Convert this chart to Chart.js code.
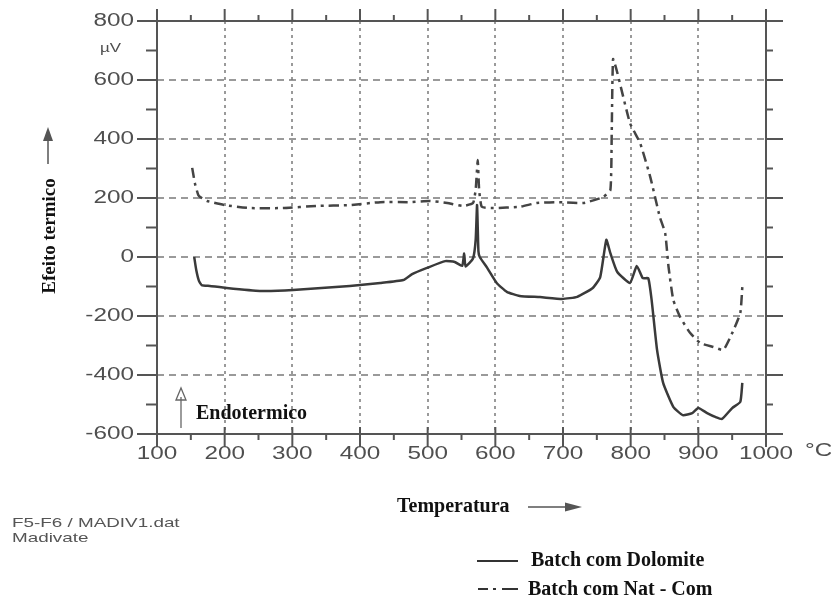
<!DOCTYPE html>
<html>
<head>
<meta charset="utf-8">
<script src="https://cdn.jsdelivr.net/npm/chart.js@4/dist/chart.umd.min.js"></script>
<style>
  html, body { margin: 0; padding: 0; background: #fff; }
  #wrap { width: 831px; height: 600px; }
</style>
</head>
<body>
<div id="wrap"><canvas id="dtaChart" width="831" height="600"></canvas></div>
<script>
// DTA curves, temperature in °C, signal in µV
const tempDolomite = [155, 158, 162, 166, 178, 203, 252, 301, 385, 430, 464, 477, 499, 526, 540, 551, 554, 556, 567, 571, 573, 575, 577, 588, 602, 617, 636, 666, 699, 721, 744, 755, 764, 770, 780, 799, 809, 818, 826, 831, 839, 848, 863, 877, 891, 900, 913, 925, 935, 950, 962, 965];
const valDolomite = [0, -44, -81, -95, -98, -105, -115, -112, -98, -88, -78, -58, -37, -14, -17, -30, 12, -32, -5, 60, 176, 20, 0, -37, -88, -118, -132, -136, -142, -135, -105, -68, 58, 13, -50, -88, -30, -72, -72, -146, -315, -427, -508, -536, -529, -512, -529, -542, -549, -512, -491, -427];

const tempNatCom = [152, 156, 161, 164, 174, 200, 237, 286, 336, 385, 430, 474, 503, 529, 552, 567, 571, 574, 576, 580, 597, 636, 661, 691, 730, 759, 770, 772, 774, 780, 799, 814, 829, 843, 851, 856, 863, 873, 888, 903, 922, 937, 950, 962, 965];
const valNatCom = [302, 250, 210, 203, 190, 176, 166, 166, 173, 176, 186, 186, 190, 183, 173, 183, 230, 329, 230, 170, 166, 170, 183, 186, 183, 203, 227, 420, 671, 627, 454, 386, 271, 136, 81, -34, -146, -203, -258, -292, -305, -315, -258, -190, -102];

const xTicks = [100, 200, 300, 400, 500, 600, 700, 800, 900, 1000];
const yTicks = [800, 600, 400, 200, 0, -200, -400, -600];
const seriesNames = ['Batch com Dolomite', 'Batch com Nat - Com'];

function toPoints(xs, ys) {
    return xs.map((x, i) => ({ x: x, y: ys[i] }));
}

// horizontally stretched text, like the plotter font
function wideText(ctx, text, x, y, align, sx) {
    ctx.save();
    ctx.translate(x, y);
    ctx.scale(sx, 1);
    ctx.textAlign = align;
    ctx.textBaseline = 'middle';
    ctx.fillText(text, 0, 0);
    ctx.restore();
}

function line(ctx, x1, y1, x2, y2) {
    ctx.beginPath();
    ctx.moveTo(x1, y1);
    ctx.lineTo(x2, y2);
    ctx.stroke();
}

const dtaDecor = {
    id: 'dtaDecor',
    beforeDatasetsDraw(chart) {
        const ctx = chart.ctx;
        const a = chart.chartArea;
        const xs = chart.scales.x, ys = chart.scales.y;
        ctx.save();
        ctx.strokeStyle = '#7a7a7a';
        ctx.lineWidth = 1.5;
        // vertical dotted grid
        ctx.setLineDash([3, 4]);
        xTicks.slice(1, -1).forEach(v => {
            const px = Math.round(xs.getPixelForValue(v));
            line(ctx, px, a.top, px, a.bottom);
        });
        // horizontal dashed grid
        ctx.setLineDash([7, 5]);
        yTicks.slice(1, -1).forEach(v => {
            const py = Math.round(ys.getPixelForValue(v));
            line(ctx, a.left, py, a.right, py);
        });
        ctx.restore();
    },
    afterDatasetsDraw(chart) {
        const ctx = chart.ctx;
        const a = chart.chartArea;
        const xs = chart.scales.x, ys = chart.scales.y;
        ctx.save();

        // frame and tick marks
        ctx.strokeStyle = '#555';
        ctx.lineWidth = 2;
        ctx.strokeRect(a.left, a.top, a.right - a.left, a.bottom - a.top);
        for (let v = -600; v <= 800; v += 100) {
            const py = ys.getPixelForValue(v);
            const major = v % 200 === 0;
            line(ctx, a.left - (major ? 20 : 11), py, a.left, py);
            line(ctx, a.right, py, a.right + (major ? 17 : 7), py);
        }
        for (let v = 100; v <= 1000; v += 50) {
            const px = xs.getPixelForValue(v);
            const major = v % 100 === 0;
            line(ctx, px, a.top - (major ? 12 : 6), px, a.top);
            if (major) line(ctx, px, a.bottom - 7, px, a.bottom + 13);
            else line(ctx, px, a.bottom, px, a.bottom + 6);
        }

        // tick labels
        ctx.fillStyle = '#4f4f4f';
        ctx.font = '18px "Liberation Sans", Arial, sans-serif';
        yTicks.forEach(v => {
            wideText(ctx, String(v), a.left - 23, ys.getPixelForValue(v), 'right', 1.35);
        });
        xTicks.forEach(v => {
            wideText(ctx, String(v), xs.getPixelForValue(v), a.bottom + 20, 'center', 1.35);
        });
        wideText(ctx, '°C', a.right + 39, a.bottom + 17, 'left', 1.35);
        ctx.font = '13px "Liberation Sans", Arial, sans-serif';
        wideText(ctx, 'µV', a.left - 57, a.top + 27, 'left', 1.3);

        // file reference
        ctx.fillStyle = '#555';
        ctx.font = '13px "Liberation Sans", Arial, sans-serif';
        wideText(ctx, 'F5-F6 / MADIV1.dat', 12, 523, 'left', 1.45);
        wideText(ctx, 'Madivate', 12, 538, 'left', 1.45);

        // axis titles
        ctx.fillStyle = '#111';
        ctx.font = 'bold 19px "Liberation Serif", "Times New Roman", serif';
        ctx.save();
        ctx.translate(55, 236);
        ctx.rotate(-Math.PI / 2);
        ctx.textAlign = 'center';
        ctx.textBaseline = 'alphabetic';
        ctx.fillText('Efeito termico', 0, 0);
        ctx.restore();
        ctx.textAlign = 'left';
        ctx.textBaseline = 'middle';
        ctx.font = 'bold 20px "Liberation Serif", "Times New Roman", serif';
        ctx.fillText('Temperatura', 397, 507);
        ctx.fillText('Endotermico', 196, 414);

        // arrows
        ctx.strokeStyle = '#555';
        ctx.fillStyle = '#555';
        ctx.lineWidth = 1.5;
        line(ctx, 48, 164, 48, 138);
        ctx.beginPath();
        ctx.moveTo(48, 127); ctx.lineTo(53, 141); ctx.lineTo(43, 141); ctx.closePath();
        ctx.fill();
        line(ctx, 528, 507, 567, 507);
        ctx.beginPath();
        ctx.moveTo(582, 507); ctx.lineTo(565, 502.5); ctx.lineTo(565, 511.5); ctx.closePath();
        ctx.fill();
        ctx.strokeStyle = '#666';
        ctx.lineWidth = 1.3;
        line(ctx, 181, 428, 181, 397);
        ctx.beginPath();
        ctx.moveTo(176, 400); ctx.lineTo(181, 388); ctx.lineTo(186, 400); ctx.closePath();
        ctx.stroke();

        // legend
        ctx.strokeStyle = '#333';
        ctx.lineWidth = 2;
        line(ctx, 477, 561, 518, 561);
        line(ctx, 478, 589, 488, 589);
        line(ctx, 493, 589, 496, 589);
        line(ctx, 502, 589, 518, 589);
        ctx.fillStyle = '#111';
        ctx.font = 'bold 20px "Liberation Serif", "Times New Roman", serif';
        ctx.fillText(seriesNames[0], 531, 561);
        ctx.fillText(seriesNames[1], 528, 590);

        ctx.restore();
    }
};

new Chart(document.getElementById('dtaChart'), {
    type: 'scatter',
    data: {
        datasets: [{
            label: seriesNames[0],
            data: toPoints(tempDolomite, valDolomite),
            showLine: true,
            borderColor: '#3a3a3a',
            borderWidth: 2.5,
            pointRadius: 0,
            tension: 0.15
        }, {
            label: seriesNames[1],
            data: toPoints(tempNatCom, valNatCom),
            showLine: true,
            borderColor: '#444',
            borderWidth: 2.5,
            borderDash: [10, 5, 3, 5],
            pointRadius: 0,
            tension: 0.15
        }]
    },
    options: {
        responsive: false,
        animation: false,
        layout: { padding: { left: 157, right: 65, top: 21, bottom: 166 } },
        plugins: {
            legend: { display: false },
            tooltip: { enabled: false }
        },
        scales: {
            x: { type: 'linear', min: 100, max: 1000, display: false },
            y: { type: 'linear', min: -600, max: 800, display: false }
        }
    },
    plugins: [dtaDecor]
});
</script>
</body>
</html>
